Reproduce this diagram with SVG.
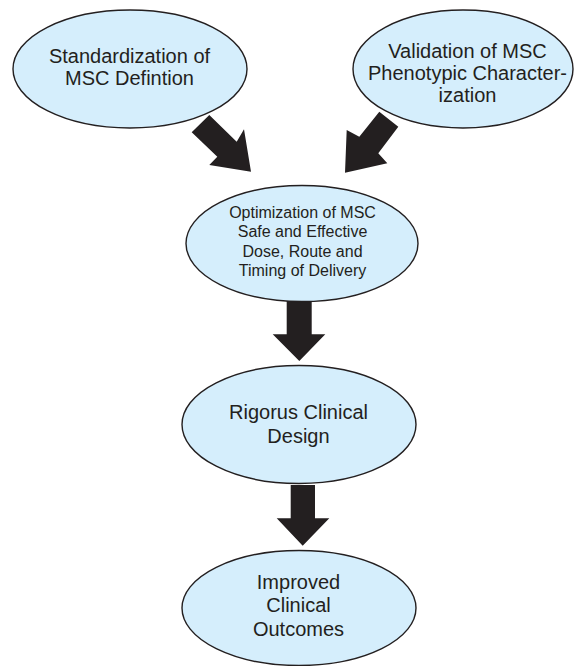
<svg xmlns="http://www.w3.org/2000/svg" width="575" height="666" viewBox="0 0 575 666">
<style>
.node{fill:#d5eefc;stroke:#231f20;stroke-width:1.4}
.arrow{fill:#231f20;stroke:none}
text{font-family:"Liberation Sans",Arial,sans-serif;fill:#231f20;text-anchor:middle}
.t20{font-size:20px}
.t16{font-size:16px}
</style>
<rect width="575" height="666" fill="#ffffff"/>
<g id="connectors">
<polygon class="arrow" points="191.7,132.3 217.3,156.7 209.3,165 251,171.7 244,129.3 236.7,141.7 209.3,115"/>
<polygon class="arrow" points="379.3,111.7 398.3,126.7 378.3,153.3 387.3,163.3 345,172.7 346.7,130 359.3,136.7"/>
<polygon class="arrow" points="286.7,300 311.7,300 311.7,334.3 325.3,334.3 299.3,361 272.7,334.3 286.7,334.3"/>
<polygon class="arrow" points="290.7,485 315,485 315,518.3 329.3,518.3 302.7,545.7 276.7,518.3 290.7,518.3"/>
</g>
<g id="node-standardization">
<ellipse class="node" cx="130" cy="69" rx="117" ry="59"/>
<text class="t20" x="129.5" y="63">Standardization of</text>
<text class="t20" x="129.5" y="85">MSC Defintion</text>
</g>
<g id="node-validation">
<ellipse class="node" cx="463" cy="69" rx="110" ry="59"/>
<text class="t20" x="467.5" y="58">Validation of MSC</text>
<text class="t20" x="467.5" y="80">Phenotypic Character-</text>
<text class="t20" x="467.5" y="102">ization</text>
</g>
<g id="node-optimization">
<ellipse class="node" cx="302" cy="243.5" rx="116" ry="58"/>
<text class="t16" x="302.5" y="218">Optimization of MSC</text>
<text class="t16" x="302.5" y="237.3">Safe and Effective</text>
<text class="t16" x="302.5" y="256.6">Dose, Route and</text>
<text class="t16" x="302.5" y="275.5">Timing of Delivery</text>
</g>
<g id="node-rigorus">
<ellipse class="node" cx="299" cy="424.5" rx="117" ry="59"/>
<text class="t20" x="298.5" y="419.3">Rigorus Clinical</text>
<text class="t20" x="298.5" y="442.7">Design</text>
</g>
<g id="node-improved">
<ellipse class="node" cx="299" cy="608" rx="117" ry="57.5"/>
<text class="t20" x="298.5" y="589">Improved</text>
<text class="t20" x="298.5" y="612">Clinical</text>
<text class="t20" x="298.5" y="636">Outcomes</text>
</g>
</svg>
